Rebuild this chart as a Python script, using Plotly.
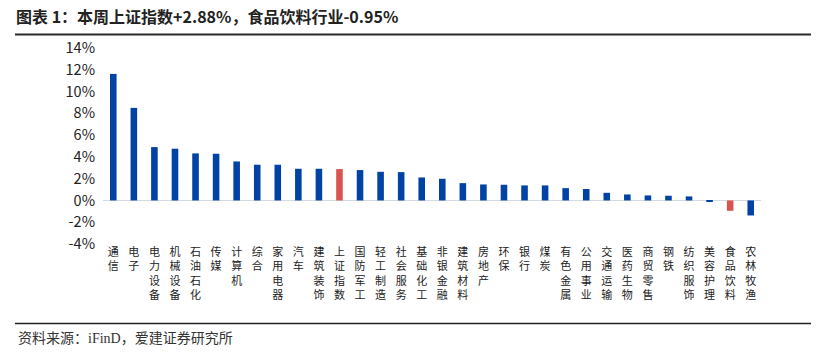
import plotly.graph_objects as go

categories = ["通信", "电子", "电力设备", "机械设备", "石油石化", "传媒", "计算机", "综合",
              "家用电器", "汽车", "建筑装饰", "上证指数", "国防军工", "轻工制造", "社会服务",
              "基础化工", "非银金融", "建筑材料", "房地产", "环保", "银行", "煤炭", "有色金属",
              "公用事业", "交通运输", "医药生物", "商贸零售", "钢铁", "纺织服饰", "美容护理",
              "食品饮料", "农林牧渔"]
values = [11.62, 8.50, 4.90, 4.75, 4.32, 4.29, 3.58, 3.28,
          3.28, 2.91, 2.91, 2.88, 2.79, 2.63, 2.60,
          2.11, 1.99, 1.59, 1.47, 1.44, 1.38, 1.38, 1.13,
          1.05, 0.70, 0.55, 0.46, 0.43, 0.37, -0.08,
          -0.95, -1.38]
highlight = ["上证指数", "食品饮料"]
y_tickvals = [-4, -2, 0, 2, 4, 6, 8, 10, 12, 14]
y_ticktext = ["-4%", "-2%", "0%", "2%", "4%", "6%", "8%", "10%", "12%", "14%"]

title_text = "图表 1：本周上证指数+2.88%，食品饮料行业-0.95%"
source_text = "资料来源：iFinD，爱建证券研究所"

BLUE = "#0043A4"
RED = "#D9534F"
W, H = 826, 360
ML, MR, MT, MB = 103, 65, 47.5, 116.4
PW = W - ML - MR
PH = H - MT - MB


def px_x(x):
    return (x - ML) / PW


def px_y(y):
    return (H - MB - y) / PH


colors = [RED if c in highlight else BLUE for c in categories]
tick_labels = ["<br>".join(list(c)) for c in categories]

fig = go.Figure(go.Bar(
    x=categories, y=values, marker=dict(color=colors, line=dict(width=0)),
    width=0.32,
))

CJK = "Noto Sans CJK SC, Microsoft YaHei, sans-serif"
LBL = "Liberation Sans, Noto Sans CJK SC, sans-serif"

fig.update_layout(
    width=W, height=H,
    margin=dict(l=ML, r=MR, t=MT, b=MB, pad=0),
    paper_bgcolor="white", plot_bgcolor="white",
    showlegend=False,
    font=dict(family=CJK, color="#222"),
    title=dict(text="<b>" + title_text + "</b>", x=16 / W, xanchor="left",
               xref="container", y=1 - 17 / H, yref="container", yanchor="middle",
               font=dict(size=16, color="#222", family=CJK)),
    shapes=[
        dict(type="rect", xref="paper", yref="paper", layer="above",
             x0=px_x(15), x1=px_x(811), y0=px_y(35), y1=px_y(33),
             fillcolor="#2B2B2B", line=dict(width=0)),
        dict(type="rect", xref="paper", yref="paper", layer="above",
             x0=px_x(15), x1=px_x(811), y0=px_y(323.8), y1=px_y(322.3),
             fillcolor="#222222", line=dict(width=0)),
    ],
)

fig.update_xaxes(
    tickmode="array", tickvals=categories, ticktext=tick_labels,
    tickangle=0, tickfont=dict(size=11, color="#222", family=LBL),
    showgrid=False, showline=False, zeroline=False, ticks="",
    range=[-0.5, len(categories) - 0.5],
)
fig.update_yaxes(
    range=[-4, 14], tickmode="array", tickvals=y_tickvals, ticktext=y_ticktext,
    tickfont=dict(size=14.5, color="#222", family=CJK),
    showgrid=False, showline=False, zeroline=True, zerolinecolor="#D3D9E0",
    zerolinewidth=1.3, ticks="", ticklabelstandoff=7,
)

fig.add_annotation(text=source_text, xref="paper", yref="paper",
                   x=px_x(16), y=px_y(338), xanchor="left", yanchor="middle",
                   showarrow=False,
                   font=dict(size=14, color="#333",
                             family="Liberation Serif, Noto Sans CJK SC, serif"))

fig.write_html("out.html", config={"displayModeBar": False},
               post_script="document.body.style.margin='0';")
